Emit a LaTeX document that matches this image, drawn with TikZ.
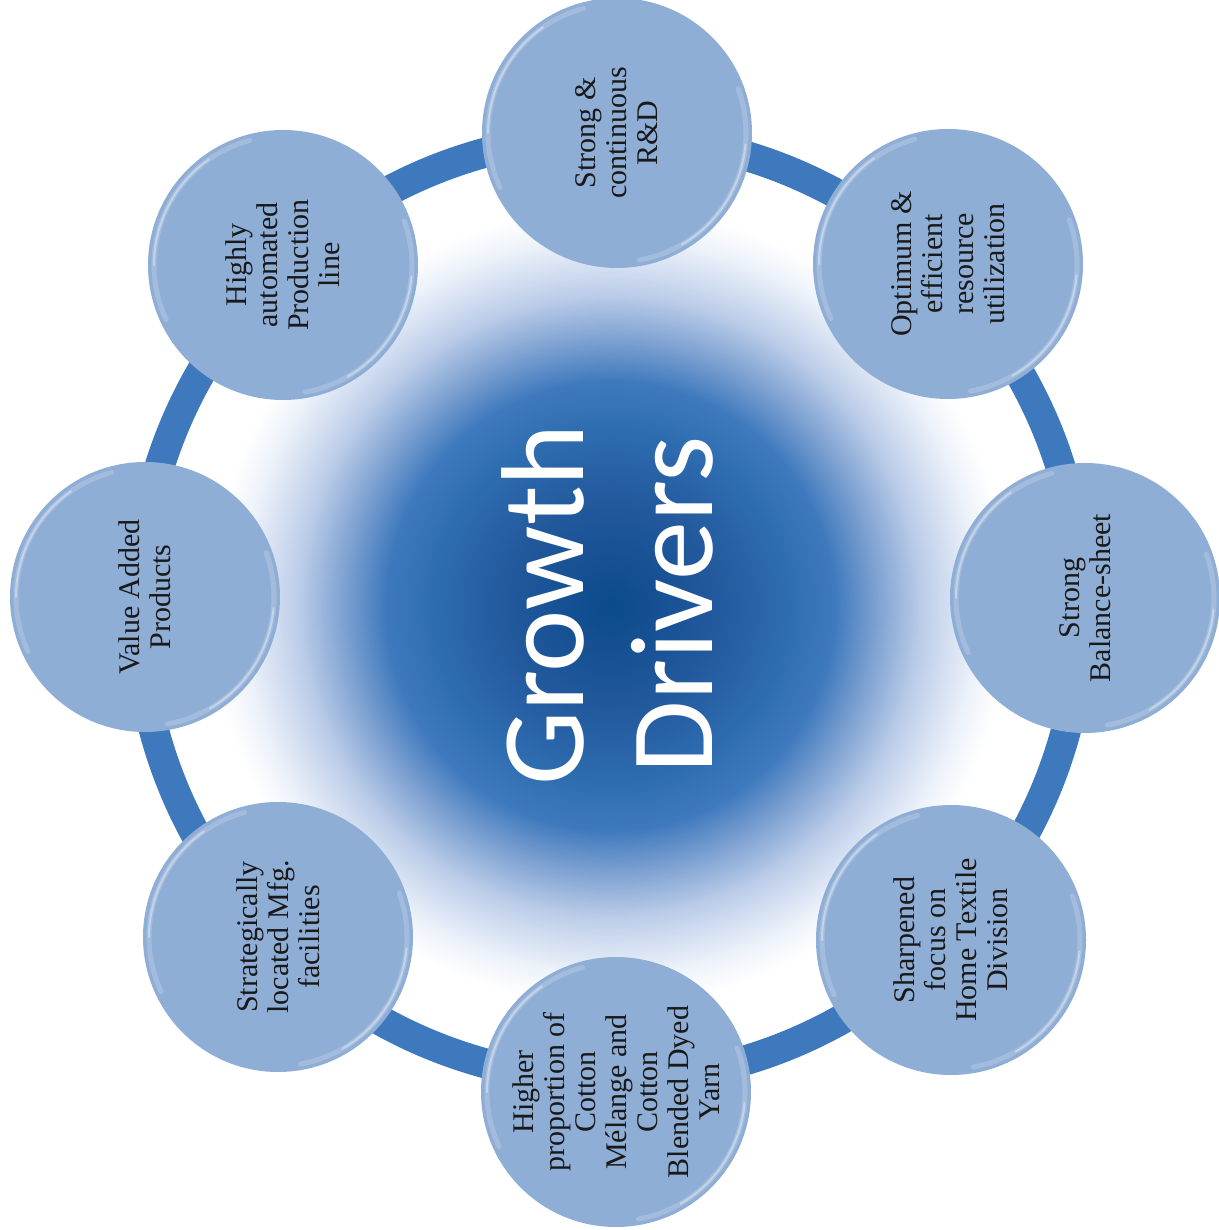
\documentclass[tikz,border=0pt]{standalone}
\usepackage{fontspec}
\setmainfont{Liberation Serif}
\newfontfamily\hubfont{Carlito}

\definecolor{ringblue}{HTML}{3E79BD}
\definecolor{bubble}{HTML}{8FAED6}
\definecolor{core}{HTML}{0B4A8B}
\definecolor{deep}{HTML}{22599C}
\definecolor{mid}{HTML}{2E6CB0}
\definecolor{pale}{HTML}{7A9FD0}
\definecolor{paler}{HTML}{BCCDE9}
\definecolor{palest}{HTML}{EDF2FA}

% soft glow behind the title (25bp is the rim of the shaded circle)
\pgfdeclareradialshading{glow}{\pgfpoint{0bp}{0bp}}{%
  color(0bp)=(core); color(6.5bp)=(deep); color(11bp)=(mid);
  color(14bp)=(ringblue); color(16.5bp)=(pale); color(19.5bp)=(paler);
  color(23bp)=(palest); color(25bp)=(white); color(50bp)=(white)}

\tikzset{
  driver/.style={circle, fill=bubble, minimum size=270pt, inner sep=0pt,
    rotate=90, align=center, text=black!90,
    font=\fontsize{30}{31}\selectfont},
  hub/.style={rotate=90, align=center, text=white,
    font=\hubfont\fontsize{118}{129}\selectfont},
  ring/.style={draw=ringblue, line width=30pt},
  rim/.style={draw=white, line width=5pt, line cap=round, opacity=0.18},
  rimcore/.style={draw=white, line width=2pt, line cap=round, opacity=0.35}
}

\begin{document}
\begin{tikzpicture}[x=1pt, y=1pt]
\useasboundingbox (-616,-618) rectangle (602,612);
\fill[white] (-616,-618) rectangle (602,612);

\shade[shading=glow] (-6,6) circle (400pt);
\draw[ring] (-6,4) circle (472pt);

% the eight drivers, clockwise from the top
\node[driver] (rd)  at (1,479)     {Strong \&\\continuous\\R\&D};
\node[driver] (opt) at (332,348)   {Optimum \&\\efficient\\resource\\utilization};
\node[driver] (bal) at (469,14)    {Strong\\Balance-sheet};
\node[driver] (shp) at (335,-328)  {Sharpened\\focus on\\Home Textile\\Division};
\node[driver] (hip) at (0,-480)    {Higher\\proportion of\\Cotton\\Mélange and\\Cotton\\Blended Dyed\\Yarn};
\node[driver] (str) at (-338,-325) {Strategically\\located Mfg.\\facilities};
\node[driver] (val) at (-471,15)   {Value Added\\Products};
\node[driver] (aut) at (-333,347)  {Highly\\automated\\Production\\line};

% bevel highlights on each bubble
\foreach \n in {rd,opt,bal,shp,hip,str,val,aut} {
  \draw[rim] (\n.center) ++(105:129pt) arc[start angle=105, end angle=205, radius=129pt];
  \draw[rimcore] (\n.center) ++(125:129pt) arc[start angle=125, end angle=180, radius=129pt];
  \draw[rim] (\n.center) ++(-80:129pt) arc[start angle=-80, end angle=20, radius=129pt];
  \draw[rimcore] (\n.center) ++(-60:129pt) arc[start angle=-60, end angle=-5, radius=129pt];
}

\node[hub] (title) at (-9,7) {Growth\\Drivers};
\end{tikzpicture}
\end{document}
